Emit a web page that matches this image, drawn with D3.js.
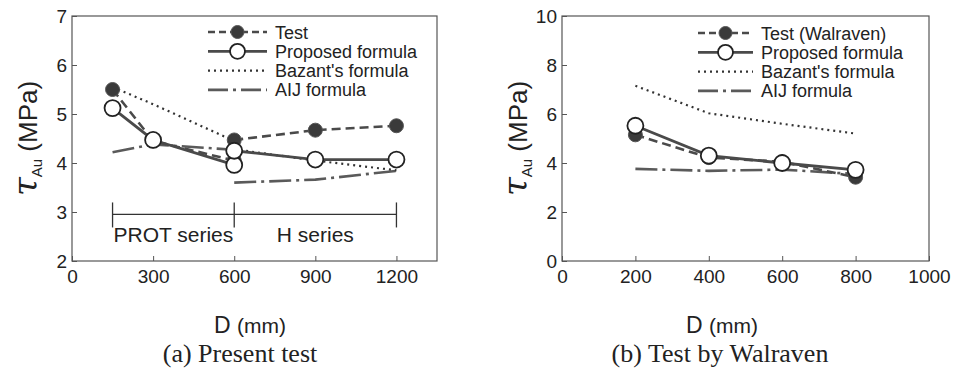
<!DOCTYPE html>
<html>
<head>
<meta charset="utf-8">
<script src="https://cdn.jsdelivr.net/npm/d3@7"></script>
<style>
  body { margin: 0; background: #fff; }
  svg { display: block; }
  text { font-family: "Liberation Sans", Arial, sans-serif; fill: #222; }
  .serif { font-family: "Liberation Serif", "Times New Roman", serif; }
</style>
</head>
<body>
<svg id="chart" width="953" height="369"></svg>
<script>
// ---- data: panel (a) present test ----
const aTicksX = [0, 300, 600, 900, 1200];
const aTicksY = [2, 3, 4, 5, 6, 7];
const aTestProt = [[150, 5.5], [300, 4.45], [600, 4.05]];
const aTestH = [[600, 4.47], [900, 4.67], [1200, 4.76]];
const aPropProt = [[150, 5.12], [300, 4.47], [600, 3.96]];
const aPropH = [[600, 4.25], [900, 4.07], [1200, 4.07]];
const aBazProt = [[150, 5.55], [300, 5.2], [600, 4.45]];
const aBazH = [[600, 4.28], [900, 4.05], [1200, 3.85]];
const aAijProt = [[150, 4.22], [300, 4.38], [600, 4.27]];
const aAijH = [[600, 3.6], [900, 3.66], [1200, 3.84]];
const aSeriesBounds = [150, 600, 1200];
const aSeriesNames = ["PROT series", "H series"];
const aLegend = ["Test", "Proposed formula", "Bazant's formula", "AIJ formula"];

// ---- data: panel (b) test by Walraven ----
const bTicksX = [0, 200, 400, 600, 800, 1000];
const bTicksY = [0, 2, 4, 6, 8, 10];
const bTest = [[200, 5.15], [400, 4.22], [600, 4.05], [800, 3.42]];
const bProp = [[200, 5.52], [400, 4.3], [600, 4.0], [800, 3.72]];
const bBaz = [[200, 7.15], [400, 6.03], [600, 5.6], [800, 5.2]];
const bAij = [[200, 3.76], [400, 3.68], [600, 3.73], [800, 3.55]];
const bLegend = ["Test (Walraven)", "Proposed formula", "Bazant's formula", "AIJ formula"];

const svg = d3.select("#chart");

const styles = {
    test: { stroke: "#4a4a4a", width: 2.6, dash: "9,5" },
    prop: { stroke: "#4a4a4a", width: 2.8, dash: null },
    baz:  { stroke: "#333", width: 2.2, dash: "2,4" },
    aij:  { stroke: "#5a5a5a", width: 2.6, dash: "22,5,3,5" }
};

function drawLine(g, pts, st, x, y) {
    const line = d3.line().x(d => x(d[0])).y(d => y(d[1]));
    g.append("path")
        .datum(pts)
        .attr("d", line)
        .attr("fill", "none")
        .attr("stroke", st.stroke)
        .attr("stroke-width", st.width)
        .attr("stroke-dasharray", st.dash);
}

function drawMarkers(g, pts, filled, x, y) {
    g.selectAll(null).data(pts).enter().append("circle")
        .attr("cx", d => x(d[0]))
        .attr("cy", d => y(d[1]))
        .attr("r", filled ? 7 : 8)
        .attr("fill", filled ? "#3a3a3a" : "#fff")
        .attr("stroke", filled ? "#555" : "#222")
        .attr("stroke-width", filled ? 1 : 1.8);
}

function drawPanel(cfg) {
    const x = d3.scaleLinear().domain(cfg.xDomain).range([cfg.left, cfg.right]);
    const y = d3.scaleLinear().domain(cfg.yDomain).range([cfg.bottom, cfg.top]);
    const g = svg.append("g");

    // frame
    g.append("rect")
        .attr("x", cfg.left).attr("y", cfg.top)
        .attr("width", cfg.right - cfg.left).attr("height", cfg.bottom - cfg.top)
        .attr("fill", "none").attr("stroke", "#555").attr("stroke-width", 1.2);

    // axes, ticks pointing inward
    const xAxis = g.append("g").attr("transform", `translate(0,${cfg.bottom})`)
        .call(d3.axisBottom(x).tickValues(cfg.ticksX).tickFormat(d3.format("d"))
            .tickSizeInner(-5).tickSizeOuter(0).tickPadding(9));
    const yAxis = g.append("g").attr("transform", `translate(${cfg.left},0)`)
        .call(d3.axisLeft(y).tickValues(cfg.ticksY).tickFormat(d3.format("d"))
            .tickSizeInner(-5).tickSizeOuter(0).tickPadding(10));
    [xAxis, yAxis].forEach(a => {
        a.select(".domain").remove();
        a.selectAll("line").attr("stroke", "#555");
        a.selectAll("text").attr("font-size", 19).attr("fill", "#222")
            .attr("font-family", "Liberation Sans, Arial, sans-serif");
    });
    yAxis.selectAll("text").attr("x", -5);

    // series lines
    cfg.lines.forEach(l => drawLine(g, l.pts, styles[l.kind], x, y));
    cfg.filled.forEach(p => drawMarkers(g, p, true, x, y));
    cfg.open.forEach(p => drawMarkers(g, p, false, x, y));

    // legend
    const kinds = ["test", "prop", "baz", "aij"];
    cfg.legend.forEach((name, i) => {
        const ly = cfg.legY + i * 19.3;
        const st = styles[kinds[i]];
        g.append("line")
            .attr("x1", cfg.legX0).attr("x2", cfg.legX1).attr("y1", ly).attr("y2", ly)
            .attr("stroke", st.stroke).attr("stroke-width", st.width)
            .attr("stroke-dasharray", kinds[i] === "aij" ? "20,5,3,5" : (kinds[i] === "test" ? "7,4" : st.dash));
        if (i < 2) {
            g.append("circle")
                .attr("cx", (cfg.legX0 + cfg.legX1) / 2).attr("cy", ly)
                .attr("r", i === 0 ? 6.5 : 7.5)
                .attr("fill", i === 0 ? "#3a3a3a" : "#fff")
                .attr("stroke", i === 0 ? "#555" : "#222")
                .attr("stroke-width", i === 0 ? 1 : 1.8);
        }
        g.append("text")
            .attr("x", cfg.legX1 + 8).attr("y", ly + 6.5)
            .attr("font-size", 18)
            .text(name);
    });

    // y axis title
    const yt = g.append("text")
        .attr("transform", `translate(${cfg.left - 35},${(cfg.top + cfg.bottom) / 2}) rotate(-90)`)
        .attr("text-anchor", "middle")
        .attr("font-size", 26);
    yt.append("tspan").attr("font-size", 34).attr("font-family", "DejaVu Serif, serif").attr("font-style", "italic").text("τ");
    yt.append("tspan").attr("font-size", 15).attr("dy", 5).text("Au");
    yt.append("tspan").attr("dy", -5).text(" (MPa)");

    // x axis title and caption
    const xt = g.append("text")
        .attr("x", cfg.titleX).attr("y", 333)
        .attr("text-anchor", "middle").attr("font-size", 23);
    xt.append("tspan").text("D ");
    xt.append("tspan").attr("font-size", 21).text("(mm)");
    g.append("text")
        .attr("class", "serif")
        .attr("x", cfg.captionX).attr("y", 362)
        .attr("text-anchor", "middle").attr("font-size", 26)
        .text(cfg.caption);

    return { g, x, y };
}

// panel (a)
const pa = drawPanel({
    left: 72, right: 437, top: 16, bottom: 261,
    xDomain: [0, 1350], yDomain: [2, 7],
    ticksX: aTicksX, ticksY: aTicksY,
    lines: [
        { pts: aAijProt, kind: "aij" }, { pts: aAijH, kind: "aij" },
        { pts: aBazProt, kind: "baz" }, { pts: aBazH, kind: "baz" },
        { pts: aPropProt, kind: "prop" }, { pts: aPropH, kind: "prop" },
        { pts: aTestProt, kind: "test" }, { pts: aTestH, kind: "test" }
    ],
    filled: [aTestProt, aTestH],
    open: [aPropProt, aPropH],
    legend: aLegend, legX0: 208, legX1: 267, legY: 32,
    titleX: 250, captionX: 240, caption: "(a) Present test"
});

// series brackets in panel (a)
const yb = pa.y(2.95);
pa.g.append("line")
    .attr("x1", pa.x(aSeriesBounds[0])).attr("x2", pa.x(aSeriesBounds[2]))
    .attr("y1", yb).attr("y2", yb)
    .attr("stroke", "#333").attr("stroke-width", 1.3);
pa.g.selectAll(null).data(aSeriesBounds).enter().append("line")
    .attr("x1", d => pa.x(d)).attr("x2", d => pa.x(d))
    .attr("y1", yb - 12).attr("y2", yb + 13)
    .attr("stroke", "#333").attr("stroke-width", 1.3);
pa.g.selectAll(null).data(aSeriesNames).enter().append("text")
    .attr("x", (d, i) => (pa.x(aSeriesBounds[i]) + pa.x(aSeriesBounds[i + 1])) / 2)
    .attr("y", yb + 28)
    .attr("text-anchor", "middle")
    .attr("font-size", 21)
    .text(d => d);

// panel (b)
drawPanel({
    left: 562, right: 929, top: 16, bottom: 261,
    xDomain: [0, 1000], yDomain: [0, 10],
    ticksX: bTicksX, ticksY: bTicksY,
    lines: [
        { pts: bAij, kind: "aij" }, { pts: bBaz, kind: "baz" },
        { pts: bTest, kind: "test" }, { pts: bProp, kind: "prop" }
    ],
    filled: [bTest],
    open: [bProp],
    legend: bLegend, legX0: 698, legX1: 753, legY: 33,
    titleX: 722, captionX: 720, caption: "(b) Test by Walraven"
});
</script>
</body>
</html>
